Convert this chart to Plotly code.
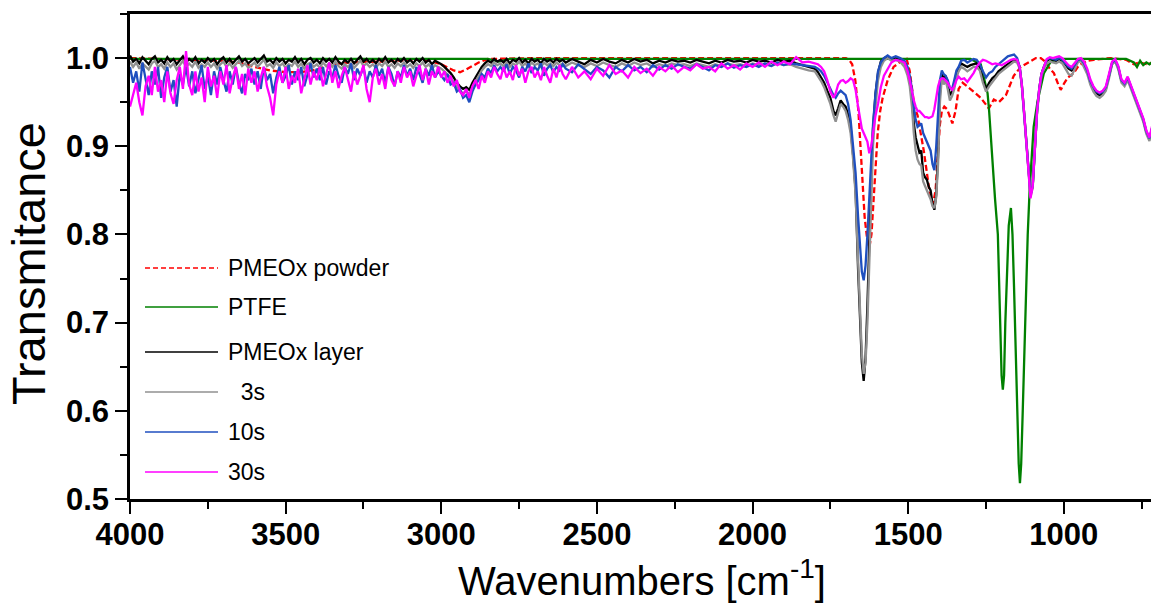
import plotly.graph_objects as go

# ---------------- data ----------------
noise_wn = [4000, 3990, 3980, 3970, 3960, 3950, 3940, 3930, 3920, 3910,
            3900, 3890, 3880, 3870, 3860, 3850, 3840, 3830, 3820, 3810,
            3800, 3790, 3780, 3770, 3760, 3750, 3740, 3730, 3720, 3710,
            3700, 3690, 3680, 3670, 3660, 3650, 3640, 3630, 3620, 3610,
            3600, 3590, 3580, 3570, 3560, 3550, 3540, 3530, 3520, 3510,
            3500, 3490, 3480, 3470, 3460, 3450, 3440, 3430, 3420, 3410,
            3400, 3390, 3380, 3370, 3360, 3350, 3340, 3330, 3320, 3310,
            3300, 3290, 3280, 3270, 3260, 3250, 3240, 3230, 3220, 3210,
            3200, 3190, 3180, 3170, 3160, 3150, 3140, 3130, 3120, 3110,
            3100, 3090, 3080, 3070, 3060, 3050, 3040, 3030, 3020, 3010,
            3000, 2990, 2980, 2970, 2960, 2950, 2940, 2930, 2920, 2910,
            2900, 2890, 2880, 2870, 2860, 2850, 2840, 2830, 2820, 2810,
            2800, 2790, 2780, 2770, 2760, 2750, 2740, 2730, 2720, 2710,
            2700, 2690, 2680, 2670, 2660, 2650, 2640, 2630, 2620, 2610,
            2600,
            2580, 2560, 2540, 2520, 2500, 2480, 2460, 2440, 2420, 2400,
            2380, 2360, 2340, 2320, 2300, 2280, 2260, 2240, 2220, 2200,
            2180, 2160, 2140, 2120, 2100, 2080, 2060, 2040, 2020, 2000,
            1980, 1960, 1940, 1920, 1900, 1880, 1860, 1840, 1820]

peak_wn = [1800, 1790, 1780, 1770, 1760, 1750, 1740, 1733, 1725, 1717,
           1709, 1701, 1693, 1685, 1677, 1669, 1661, 1655, 1649, 1643,
           1637, 1631, 1625, 1619, 1613, 1605, 1597, 1588, 1578, 1566,
           1554, 1540, 1526, 1512, 1502, 1495, 1488, 1482, 1476, 1470,
           1464, 1458, 1452, 1446, 1440, 1434, 1428, 1422, 1416, 1410,
           1404, 1398, 1392, 1386, 1380, 1373, 1366, 1359, 1352, 1345,
           1338, 1330, 1320, 1310, 1300, 1290, 1280, 1270, 1260, 1250,
           1240, 1230, 1220, 1210, 1200, 1190, 1180, 1170, 1160, 1150,
           1142, 1135, 1128, 1121, 1114, 1107, 1100, 1093, 1086, 1079,
           1072, 1064, 1055, 1045, 1035, 1025, 1015, 1005, 995, 985,
           975, 965, 955, 945, 935, 925, 915, 905, 895, 885,
           875, 865, 855, 845, 835, 825, 815, 805, 795, 785,
           775, 765, 755, 745, 735, 725, 715]

# PMEOx layer (black)
layer_noise = [1.003, 0.996, 0.999, 0.994, 1.001, 0.997, 0.993, 0.999, 1.002, 0.995,
               0.998, 0.994, 1.001, 0.996, 0.999, 0.993, 0.998, 1.002, 0.995, 0.999,
               0.996, 1.001, 0.994, 0.998, 0.995, 1.0, 0.996, 0.999, 0.993, 0.998,
               1.001, 0.995, 0.999, 0.994, 0.998, 1.002, 0.996, 0.999, 0.994, 0.997,
               1.0, 0.995, 0.999, 1.003, 0.996, 0.998, 0.994, 1.0, 0.996, 0.999,
               0.994, 0.998, 0.996, 1.001, 0.995, 0.999, 0.993, 0.998, 1.0, 0.995,
               0.998, 0.994, 1.0, 0.996, 0.999, 0.995, 1.001, 0.996, 0.993, 0.998,
               0.995, 0.999, 0.994, 0.998, 1.002, 0.996, 0.999, 0.995, 0.998, 0.994,
               0.999, 0.996, 1.001, 0.995, 0.998, 0.994, 0.999, 0.996, 1.0, 0.995,
               0.998, 0.994, 0.999, 0.996, 1.0, 0.995, 0.998, 0.993, 0.997, 0.995,
               0.993, 0.99, 0.987, 0.983, 0.978, 0.972, 0.968, 0.965, 0.967, 0.964,
               0.972, 0.978, 0.985, 0.99, 0.994, 0.997, 0.995, 0.999, 0.996, 0.998,
               0.995, 0.999, 0.994, 0.998, 0.996, 1.0, 0.995, 0.998, 0.994, 0.999,
               0.996, 0.998, 0.994, 0.999, 0.996, 0.998, 0.995, 0.999, 0.996, 0.998,
               0.995,
               0.999, 0.996, 0.993, 0.998, 0.995, 0.999, 0.996, 0.994, 0.998, 0.995,
               0.999, 0.996, 0.998, 0.994, 0.997, 0.995, 0.998, 0.996, 0.997, 0.995,
               0.998, 0.996, 0.994, 0.997, 0.995, 0.998, 0.996, 0.997, 0.995, 0.998,
               0.996, 0.997, 0.995, 0.998, 0.996, 0.997, 0.994, 0.992, 0.99]
layer_peak = [0.988, 0.984, 0.978, 0.972, 0.963, 0.955, 0.94, 0.935, 0.943, 0.952,
              0.948, 0.945, 0.936, 0.922, 0.89, 0.85, 0.76, 0.70, 0.655, 0.634,
              0.66, 0.72, 0.80, 0.86, 0.92, 0.96, 0.983, 0.996, 1.0, 1.002,
              0.998, 1.001, 0.999, 0.995, 0.986, 0.975, 0.955, 0.926, 0.91, 0.9,
              0.893, 0.895, 0.87, 0.865, 0.862, 0.854, 0.85, 0.835, 0.828, 0.845,
              0.89, 0.96, 0.983, 0.975, 0.98, 0.972, 0.958, 0.962, 0.97, 0.982,
              0.988, 0.994, 0.992, 0.99, 0.992, 0.993, 0.994, 0.99, 0.975, 0.965,
              0.972, 0.977, 0.98, 0.985, 0.988, 0.99, 0.993, 0.996, 0.998, 0.997,
              0.99, 0.97, 0.94, 0.91, 0.875, 0.845, 0.855, 0.9, 0.94, 0.965,
              0.982, 0.99, 0.997, 0.999, 0.998, 0.997, 0.999, 0.997, 0.993, 0.988,
              0.986, 0.99, 0.997, 0.998, 0.993, 0.985, 0.973, 0.966, 0.96, 0.958,
              0.96, 0.965, 0.978, 0.994, 0.997, 0.989, 0.974, 0.97, 0.977, 0.968,
              0.958, 0.95, 0.94, 0.93, 0.916, 0.908, 0.922]

# 3s (grey)
s3_noise = [0.996, 0.99, 0.995, 0.988, 0.994, 0.991, 0.987, 0.994, 0.997, 0.99,
            0.993, 0.988, 0.995, 0.99, 0.994, 0.987, 0.992, 0.997, 0.99, 0.994,
            0.99, 0.996, 0.989, 0.993, 0.99, 0.995, 0.99, 0.994, 0.988, 0.993,
            0.996, 0.99, 0.994, 0.989, 0.993, 0.997, 0.991, 0.994, 0.989, 0.992,
            0.995, 0.99, 0.994, 0.998, 0.991, 0.993, 0.989, 0.995, 0.991, 0.994,
            0.989, 0.993, 0.991, 0.996, 0.99, 0.994, 0.988, 0.993, 0.995, 0.99,
            0.993, 0.989, 0.995, 0.991, 0.994, 0.99, 0.996, 0.991, 0.988, 0.993,
            0.99, 0.994, 0.989, 0.993, 0.997, 0.991, 0.994, 0.99, 0.993, 0.989,
            0.994, 0.991, 0.996, 0.99, 0.993, 0.989, 0.994, 0.991, 0.995, 0.99,
            0.993, 0.989, 0.994, 0.991, 0.995, 0.99, 0.993, 0.988, 0.992, 0.99,
            0.988, 0.985, 0.982, 0.978, 0.973, 0.967, 0.963, 0.96, 0.962, 0.959,
            0.967, 0.973, 0.98, 0.986, 0.99, 0.993, 0.991, 0.995, 0.992, 0.994,
            0.991, 0.995, 0.99, 0.994, 0.992, 0.996, 0.991, 0.994, 0.99, 0.995,
            0.992, 0.994, 0.99, 0.995, 0.992, 0.994, 0.991, 0.995, 0.992, 0.994,
            0.991,
            0.995, 0.992, 0.99, 0.994, 0.991, 0.995, 0.992, 0.99, 0.994, 0.991,
            0.995, 0.992, 0.994, 0.99, 0.993, 0.991, 0.994, 0.992, 0.993, 0.991,
            0.994, 0.992, 0.99, 0.993, 0.991, 0.994, 0.992, 0.993, 0.991, 0.994,
            0.992, 0.993, 0.991, 0.994, 0.992, 0.993, 0.99, 0.988, 0.986]
s3_peak = [0.985, 0.98, 0.974, 0.967, 0.958, 0.948, 0.935, 0.928, 0.938, 0.948,
           0.945, 0.94, 0.93, 0.915, 0.885, 0.845, 0.77, 0.71, 0.665, 0.642,
           0.655, 0.70, 0.77, 0.84, 0.9, 0.945, 0.975, 0.99, 0.997, 1.0,
           0.997, 0.998, 0.996, 0.99, 0.98, 0.968, 0.945, 0.915, 0.895, 0.885,
           0.88, 0.878, 0.86, 0.855, 0.85, 0.845, 0.84, 0.832, 0.83, 0.842,
           0.88, 0.95, 0.978, 0.97, 0.975, 0.965, 0.952, 0.957, 0.965, 0.978,
           0.985, 0.99, 0.988, 0.985, 0.988, 0.99, 0.99, 0.986, 0.972, 0.962,
           0.968, 0.973, 0.977, 0.982, 0.985, 0.988, 0.991, 0.994, 0.996, 0.995,
           0.988, 0.968, 0.938, 0.908, 0.872, 0.843, 0.853, 0.898, 0.938, 0.962,
           0.98, 0.988, 0.994, 0.996, 0.995, 0.994, 0.996, 0.994, 0.988, 0.982,
           0.98, 0.987, 0.995, 0.997, 0.99, 0.982, 0.97, 0.962, 0.957, 0.955,
           0.958, 0.963, 0.977, 0.993, 0.996, 0.987, 0.972, 0.968, 0.975, 0.966,
           0.956, 0.948, 0.938, 0.928, 0.914, 0.906, 0.92]

# 10s (blue)
s10_noise = [0.99, 0.972, 0.985, 0.962, 0.995, 0.975, 0.958, 0.985, 0.97, 0.99,
             0.955, 0.978, 0.99, 0.962, 0.975, 0.945, 0.982, 0.97, 0.99, 0.968,
             0.985, 0.96, 0.978, 0.992, 0.965, 0.98, 0.958, 0.985, 0.97, 0.99,
             0.975, 0.962, 0.985, 0.97, 0.99, 0.972, 0.96, 0.982, 0.975, 0.988,
             0.97, 0.985, 0.965, 0.99, 0.975, 0.982, 0.96, 0.978, 0.99, 0.972,
             0.98, 0.992, 0.97, 0.985, 0.975, 0.99, 0.968, 0.982, 0.994, 0.978,
             0.988, 0.975, 0.99, 0.97, 0.985, 0.978, 0.992, 0.98, 0.972, 0.99,
             0.982, 0.994, 0.975, 0.988, 0.98, 0.99, 0.972, 0.985, 0.978, 0.992,
             0.98, 0.988, 0.972, 0.99, 0.982, 0.968, 0.985, 0.978, 0.992, 0.98,
             0.988, 0.975, 0.99, 0.982, 0.972, 0.988, 0.98, 0.992, 0.978, 0.985,
             0.98, 0.975, 0.982, 0.97, 0.972, 0.962, 0.965, 0.955, 0.958, 0.95,
             0.962, 0.97, 0.975, 0.982, 0.978, 0.988, 0.983, 0.992, 0.985, 0.99,
             0.985, 0.993, 0.982, 0.99, 0.986, 0.978, 0.99, 0.985, 0.994, 0.983,
             0.99, 0.986, 0.994, 0.98, 0.988, 0.992, 0.984, 0.99, 0.986, 0.993,
             0.988,
             0.984, 0.993, 0.987, 0.982, 0.99, 0.986, 0.978, 0.99, 0.985, 0.992,
             0.986, 0.99, 0.984, 0.992, 0.987, 0.992, 0.988, 0.993, 0.99, 0.988,
             0.993, 0.99, 0.986, 0.992, 0.99, 0.994, 0.989, 0.992, 0.99, 0.993,
             0.99, 0.994, 0.991, 0.995, 0.992, 0.994, 0.993, 0.992, 0.991]
s10_peak = [0.99, 0.988, 0.985, 0.98, 0.972, 0.964, 0.958, 0.955, 0.96, 0.963,
            0.96, 0.958, 0.948, 0.93, 0.9, 0.87, 0.82, 0.785, 0.758, 0.748,
            0.765, 0.8, 0.845, 0.885, 0.925, 0.96, 0.985, 0.995, 1.0, 1.003,
            1.0, 1.002, 1.0, 0.997, 0.99, 0.98, 0.965, 0.945, 0.93, 0.922,
            0.924, 0.926, 0.915, 0.91, 0.905, 0.9, 0.895, 0.88, 0.873, 0.9,
            0.945, 0.975, 0.986, 0.982, 0.98, 0.975, 0.966, 0.965, 0.975, 0.986,
            0.99, 0.997, 0.998, 0.995, 0.997, 0.999, 0.998, 0.993, 0.985, 0.978,
            0.983, 0.985, 0.99, 0.993, 0.997, 1.0, 1.002, 1.003, 1.004, 1.0,
            0.99, 0.97, 0.94, 0.91, 0.875, 0.845, 0.855, 0.9, 0.94, 0.965,
            0.982, 0.99, 0.998, 1.0, 0.999, 0.998, 1.0, 0.998, 0.994, 0.99,
            0.988, 0.992, 0.998, 0.999, 0.994, 0.986, 0.974, 0.967, 0.962, 0.96,
            0.962, 0.967, 0.98, 0.995, 0.998, 0.99, 0.975, 0.971, 0.978, 0.969,
            0.959, 0.951, 0.941, 0.931, 0.917, 0.909, 0.923]

# 30s (magenta)
s30_noise = [0.945, 0.958, 0.972, 0.95, 0.935, 0.968, 0.98, 0.958, 0.99, 0.962,
             0.975, 0.95, 0.985, 0.96, 0.948, 0.975, 0.99, 0.965, 1.008, 0.97,
             0.958, 0.985, 0.962, 0.978, 0.95, 0.99, 0.968, 0.98, 0.955, 0.985,
             0.97, 0.992, 0.96, 0.978, 0.99, 0.965, 0.982, 0.958, 0.988, 0.972,
             0.985, 0.962, 0.978, 0.99, 0.968, 0.955, 0.935, 0.97, 0.985, 0.972,
             0.99, 0.965, 0.98, 0.972, 0.988, 0.96, 0.978, 0.992, 0.97, 0.985,
             0.975, 0.99, 0.968, 0.982, 0.995, 0.972, 0.985, 0.966, 0.98, 0.99,
             0.975, 0.962, 0.985, 0.97, 0.98, 0.992, 0.965, 0.95, 0.978, 0.988,
             0.97, 0.982, 0.965, 0.99, 0.975, 0.968, 0.985, 0.972, 0.99, 0.978,
             0.985, 0.968, 0.98, 0.992, 0.975, 0.988, 0.97, 0.985, 0.978, 0.99,
             0.978, 0.985, 0.972, 0.98, 0.968, 0.975, 0.962, 0.958, 0.965, 0.955,
             0.968, 0.975, 0.965, 0.98, 0.972, 0.985, 0.978, 0.99, 0.982, 0.976,
             0.99, 0.978, 0.985, 0.975, 0.992, 0.98, 0.988, 0.972, 0.985, 0.99,
             0.978, 0.985, 0.975, 0.99, 0.98, 0.972, 0.988, 0.978, 0.992, 0.982,
             0.976,
             0.99, 0.978, 0.985, 0.976, 0.988, 0.98, 0.992, 0.982, 0.986, 0.978,
             0.99, 0.983, 0.988, 0.98, 0.99, 0.985, 0.992, 0.984, 0.99, 0.986,
             0.993, 0.988, 0.99, 0.985, 0.994, 0.988, 0.992, 0.987, 0.994, 0.99,
             0.995, 0.99, 0.996, 0.992, 0.996, 0.993, 1.001, 0.995, 0.996]
s30_peak = [0.994, 0.993, 0.99, 0.985, 0.975, 0.962, 0.955, 0.96, 0.97, 0.974,
            0.975, 0.972, 0.974, 0.977, 0.975, 0.964, 0.945, 0.93, 0.92, 0.915,
            0.91, 0.905, 0.892, 0.9, 0.915, 0.935, 0.948, 0.967, 0.98, 0.988,
            0.995, 0.998, 0.997, 0.995, 0.985, 0.975, 0.962, 0.952, 0.945, 0.94,
            0.94, 0.938, 0.935, 0.933, 0.933, 0.932, 0.933, 0.934, 0.942, 0.955,
            0.968, 0.975, 0.977, 0.977, 0.975, 0.972, 0.967, 0.964, 0.968, 0.975,
            0.979, 0.976, 0.977, 0.973, 0.978, 0.983, 0.99, 0.995, 0.998, 0.997,
            0.995, 0.993, 0.994, 0.993, 0.992, 0.994, 0.996, 0.998, 0.999, 0.998,
            0.99, 0.97, 0.94, 0.91, 0.875, 0.841, 0.855, 0.9, 0.94, 0.965,
            0.982, 0.99, 0.999, 1.001, 1.0, 1.001, 1.002, 1.0, 0.996, 0.992,
            0.99, 0.994, 0.999, 1.0, 0.996, 0.988, 0.976, 0.968, 0.963, 0.961,
            0.963, 0.968, 0.981, 0.996, 0.999, 0.991, 0.976, 0.972, 0.979, 0.97,
            0.96, 0.952, 0.942, 0.932, 0.918, 0.91, 0.925]

# PMEOx powder (red dashed)
powder_wn = [4000, 3900, 3800, 3700, 3650, 3600, 3550, 3500, 3450, 3400, 3350, 3300,
             3200, 3100, 3050, 3000, 2960, 2940, 2920, 2880, 2850, 2700, 2400, 2000,
             1800, 1700, 1690, 1680, 1670, 1660, 1650, 1640, 1632, 1625, 1618, 1611,
             1604, 1598, 1590, 1582, 1566, 1547, 1524, 1505, 1495, 1488, 1480, 1470,
             1460, 1450, 1440, 1430, 1420, 1412, 1405, 1398, 1392, 1384, 1375, 1368,
             1358, 1348, 1338, 1325, 1310, 1290, 1267, 1241, 1225, 1209, 1186, 1161,
             1138, 1110, 1090, 1074, 1060, 1045, 1032, 1020, 1010, 998, 987, 968,
             955, 945, 925, 904, 850, 800, 790, 775, 760, 745, 730, 715]
powder_T = [1.0, 0.999, 0.998, 0.997, 0.995, 0.99, 0.986, 0.984, 0.984, 0.987, 0.993, 0.995,
            0.996, 0.998, 0.998, 0.993, 0.986, 0.984, 0.987, 0.995, 0.999, 1.0, 1.0, 1.0,
            1.0, 1.0, 0.998, 0.993, 0.975, 0.94, 0.88, 0.82, 0.795, 0.785, 0.8, 0.84,
            0.885, 0.915, 0.94, 0.955, 0.975, 0.99, 0.996, 0.999, 0.985, 0.968, 0.945, 0.935,
            0.915, 0.895, 0.87, 0.845, 0.835, 0.85, 0.89, 0.925, 0.94, 0.945, 0.942, 0.935,
            0.926, 0.94, 0.965, 0.972, 0.968, 0.962, 0.955, 0.943, 0.953, 0.95, 0.958, 0.98,
            0.99, 0.996, 1.0, 1.0, 0.996, 0.988, 0.983, 0.972, 0.964, 0.972, 0.978, 0.983,
            0.99, 0.993, 0.997, 0.998, 1.0, 0.998, 0.996, 0.993, 0.995, 0.994, 0.993, 0.995]

# PTFE (green)
ptfe_wn = [4000, 3500, 3000, 2850, 2815, 2780, 2500, 2000, 1800, 1500, 1300, 1267,
           1251, 1245, 1240, 1235, 1228, 1221, 1212, 1206, 1200, 1196, 1192, 1188,
           1183, 1177, 1170, 1165, 1160, 1155, 1150, 1145, 1141, 1137, 1132, 1127,
           1122, 1116, 1110, 1106, 1097, 1084, 1064, 1042, 1019, 1000, 900, 800,
           775, 765, 755, 745, 735, 725, 715]
ptfe_T = [0.999, 0.999, 0.999, 0.999, 0.996, 0.999, 0.999, 0.999, 0.999, 0.999, 0.999, 0.993,
          0.97, 0.96, 0.94, 0.91, 0.875, 0.84, 0.8, 0.726, 0.64, 0.624, 0.64, 0.7,
          0.76, 0.81, 0.83, 0.80, 0.74, 0.67, 0.6, 0.54, 0.518, 0.54, 0.6, 0.67,
          0.728, 0.8, 0.85, 0.876, 0.922, 0.952, 0.983, 0.996, 0.999, 0.999, 0.999, 0.999,
          0.995, 0.99, 0.997, 0.992, 0.995, 0.993, 0.996]

legend_names = ["PMEOx powder", "PTFE", "PMEOx layer", "  3s", "10s", "30s"]
x_ticks = [4000, 3500, 3000, 2500, 2000, 1500, 1000]
y_ticks = [0.5, 0.6, 0.7, 0.8, 0.9, 1.0]

# ---------------- figure ----------------
W, H = 1151, 603
L, R, T, B = 130, 0, 14, 104
pw, ph = W - L - R, H - T - B
FONT = "Liberation Sans, Arial, sans-serif"


def px(xp):
    return (xp - L) / pw


def py(yp):
    return (H - B - yp) / ph


fig = go.Figure()
series = [
    (powder_wn, powder_T, "#ff0000", "6px,3px"),
    (ptfe_wn, ptfe_T, "#008000", "solid"),
    (noise_wn + peak_wn, layer_noise + layer_peak, "#000000", "solid"),
    (noise_wn + peak_wn, s3_noise + s3_peak, "#909090", "solid"),
    (noise_wn + peak_wn, s10_noise + s10_peak, "#1f4fbf", "solid"),
    (noise_wn + peak_wn, s30_noise + s30_peak, "#ff00ff", "solid"),
]
for (xs, ys, col, dash), name in zip(series, legend_names):
    fig.add_trace(go.Scatter(x=xs, y=ys, mode="lines", name=name.strip(),
                             line=dict(color=col, width=2.3, dash=dash),
                             showlegend=False))

# manual legend
leg_y = [268, 307, 352, 392, 432, 472]
for (xs, ys, col, dash), name, yy in zip(series, legend_names, leg_y):
    fig.add_shape(type="line", xref="paper", yref="paper",
                  x0=px(145), x1=px(218), y0=py(yy), y1=py(yy),
                  line=dict(color=col, width=1.6, dash="5px,3px" if dash != "solid" else "solid"))
    fig.add_annotation(xref="paper", yref="paper", x=px(226), y=py(yy),
                       xanchor="left", yanchor="middle", showarrow=False,
                       text=name.replace(" ", "&nbsp;") if name.startswith(" ") else name,
                       font=dict(family=FONT, size=23, color="#000"))

# axis titles
fig.add_annotation(xref="paper", yref="paper", x=px(28), y=py(264), textangle=-90,
                   text="Transmitance", showarrow=False, xanchor="center", yanchor="middle",
                   font=dict(family=FONT, size=47, color="#000"))
fig.add_annotation(xref="paper", yref="paper", x=px(642), y=py(578),
                   text="Wavenumbers [cm<sup>-1</sup>]", showarrow=False,
                   xanchor="center", yanchor="middle",
                   font=dict(family=FONT, size=40, color="#000"))

tickfont = dict(family=FONT, size=31, color="#000", weight="bold")
fig.update_layout(
    width=W, height=H, margin=dict(l=L, r=R, t=T, b=B),
    paper_bgcolor="white", plot_bgcolor="white", showlegend=False,
    xaxis=dict(range=[4000, 720], tickvals=x_ticks, ticks="outside", ticklen=12,
               tickwidth=2, tickcolor="#000", showline=True, linewidth=2.5,
               linecolor="#000", mirror=True, showgrid=False, zeroline=False,
               tickfont=tickfont, ticklabelstandoff=-6,
               minor=dict(dtick=250, ticks="outside", ticklen=7, tickwidth=2, tickcolor="#000",
                          showgrid=False)),
    yaxis=dict(range=[0.5, 1.05], tickvals=y_ticks, ticktext=[f"{v:.1f}" for v in y_ticks],
               ticks="outside", ticklen=12, tickwidth=2, tickcolor="#000",
               showline=True, linewidth=2.5, linecolor="#000", showgrid=False, zeroline=False,
               tickfont=tickfont,
               minor=dict(dtick=0.05, ticks="outside", ticklen=7, tickwidth=2, tickcolor="#000",
                          showgrid=False)),
)

fig.write_html("out.html")
